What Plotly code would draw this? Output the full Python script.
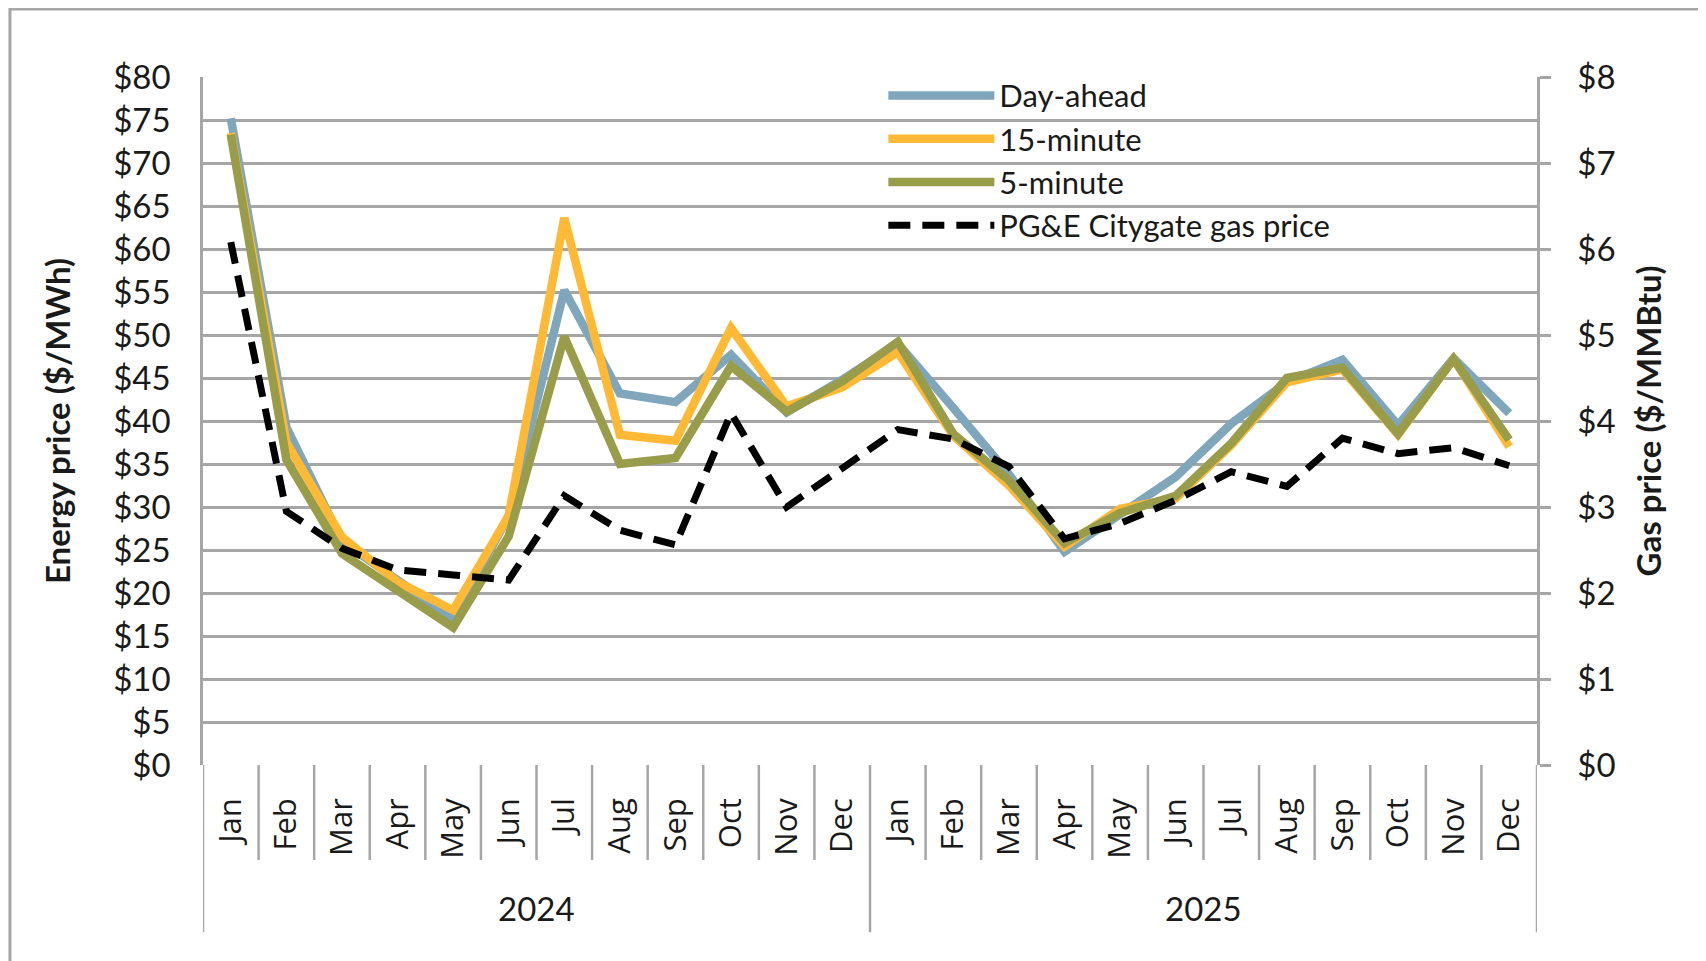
import plotly.graph_objects as go

months = ["Jan", "Feb", "Mar", "Apr", "May", "Jun", "Jul", "Aug", "Sep", "Oct", "Nov", "Dec"]
years = ["2024", "2025"]

day_ahead = [75.2, 39.3, 26.0, 21.5, 17.0, 29.0, 55.2, 43.2, 42.2, 47.7, 41.0, 44.8,
             49.0, 41.5, 33.8, 24.8, 29.3, 33.5, 39.7, 44.5, 47.1, 39.5, 47.3, 40.9]
fifteen_min = [73.5, 37.5, 26.5, 21.3, 18.0, 29.0, 63.6, 38.4, 37.7, 50.8, 41.7, 43.9,
               48.0, 38.3, 32.5, 25.4, 29.8, 31.0, 37.2, 44.5, 46.0, 38.4, 47.2, 37.0]
five_min = [73.3, 35.5, 24.6, 20.2, 16.0, 26.6, 49.8, 35.0, 35.7, 46.4, 41.1, 44.6,
            49.2, 38.5, 33.1, 25.8, 29.3, 31.3, 37.4, 45.0, 46.2, 38.5, 47.2, 37.8]
gas_price = [6.08, 2.95, 2.52, 2.27, 2.21, 2.15, 3.13, 2.73, 2.56, 4.09, 3.00, 3.45,
             3.90, 3.79, 3.47, 2.63, 2.81, 3.08, 3.41, 3.24, 3.80, 3.62, 3.69, 3.48]

energy_ticks = list(range(0, 81, 5))
gas_ticks = list(range(0, 9))

x = [f"{m} {y}" for y in years for m in months]
grid = "#a6a6a6"
ink = "#1a1a1a"
font = "Lato, Calibri, sans-serif"

fig = go.Figure()
series = [
    ("Day-ahead", day_ahead, "#7fa6ba"),
    ("15-minute", fifteen_min, "#ffb934"),
    ("5-minute", five_min, "#999c49"),
]
for name, vals, color in series:
    fig.add_trace(go.Scatter(x=x, y=vals, mode="lines", name=name,
                             line=dict(color=color, width=8.5)))
fig.add_trace(go.Scatter(x=x, y=gas_price, mode="lines", name="PG&E Citygate gas price",
                         yaxis="y2", line=dict(color="black", width=7, dash="22px,12px")))

# category separators and year dividers below the plot
shapes = []
for i in range(len(x) - 1):
    if (i + 1) % 12 == 0:
        continue
    shapes.append(dict(type="line", xref="x", yref="paper", x0=i + 0.5, x1=i + 0.5,
                       y0=0, y1=-0.138, line=dict(color=grid, width=2.5)))
for k in range(len(years) + 1):
    xv = k * 12 - 0.5
    shapes.append(dict(type="line", xref="x", yref="paper", x0=xv, x1=xv,
                       y0=0, y1=-0.243, line=dict(color=grid, width=2.5)))
# outer chart border (only top and left edges fall inside the picture)
shapes.append(dict(type="rect", xref="paper", yref="paper", x0=-0.1447, x1=1.4,
                   y0=-0.6, y1=1.0988, line=dict(color=grid, width=3),
                   fillcolor="rgba(0,0,0,0)", layer="below"))

annotations = []
for k, yr in enumerate(years):
    annotations.append(dict(text=yr, xref="x", yref="paper", x=k * 12 + 5.5, y=-0.208,
                            yanchor="middle", showarrow=False,
                            font=dict(family=font, size=33, color=ink)))

fig.update_layout(
    width=1698, height=953,
    margin=dict(l=195, r=169, t=69, b=196),
    paper_bgcolor="white", plot_bgcolor="white",
    font=dict(family=font, size=33, color=ink),
    showlegend=True,
    legend=dict(x=0.510, y=1.012, xanchor="left", yanchor="top", bgcolor="rgba(0,0,0,0)",
                font=dict(family=font, size=31, color=ink), itemwidth=106,
                traceorder="normal"),
    xaxis=dict(tickvals=x, ticktext=months * len(years), tickangle=-90,
               tickfont=dict(family="Open Sans, sans-serif", size=31, color=ink),
               range=[-0.5, len(x) - 0.5], showgrid=False, showline=False, zeroline=False,
               ticks="", ticklabelstandoff=26),
    yaxis=dict(range=[0, 80], tickvals=energy_ticks,
               ticktext=[f"${v}" for v in energy_ticks],
               showgrid=True, gridcolor=grid, gridwidth=2.5, zeroline=False,
               showline=True, linecolor=grid, linewidth=2.5, ticks="",
               ticklabelstandoff=23,
               title=dict(text="<b>Energy price ($/MWh)</b>", standoff=33,
                          font=dict(family=font, size=33, color=ink))),
    yaxis2=dict(range=[0, 8], tickvals=gas_ticks, ticktext=[f"${v}" for v in gas_ticks],
                overlaying="y", side="right", showgrid=False, zeroline=False,
                showline=True, linecolor=grid, linewidth=2.5,
                ticks="outside", ticklen=11, tickcolor=grid, tickwidth=2.5,
                ticklabelstandoff=20,
                title=dict(text="<b>Gas price ($/MMBtu)</b>", standoff=24,
                           font=dict(family=font, size=33, color=ink))),
    shapes=shapes,
    annotations=annotations,
)

fig.write_html("out.html")
